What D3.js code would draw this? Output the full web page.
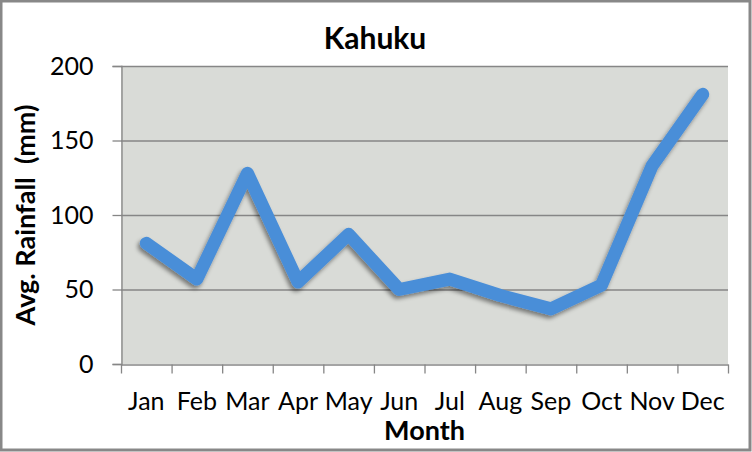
<!DOCTYPE html>
<html><head><meta charset="utf-8">
<script src="https://cdn.jsdelivr.net/npm/d3@7"></script>
<style>
html,body{margin:0;padding:0;background:#fff;}
svg{display:block;}
text{font-family:Lato,"Open Sans",sans-serif;fill:#000;white-space:pre;}
</style></head>
<body>
<svg id="chart" width="752" height="452"></svg>
<script>
const months = ["Jan","Feb","Mar","Apr","May","Jun","Jul","Aug","Sep","Oct","Nov","Dec"];
const rainfall = [81, 57, 128, 55, 87, 50, 57, 46, 37, 53, 133, 181];
const yTicks = [0, 50, 100, 150, 200];
const title = "Kahuku";
const xTitle = "Month";
const yTitle = "Avg. Rainfall  (mm)";

const W = 752, H = 452;
const m = {left:121, right:24, top:66, bottom:88};
const svg = d3.select("#chart");

svg.append("rect").attr("x",1).attr("y",1).attr("width",W-3).attr("height",H-3)
  .attr("fill","#fff").attr("stroke","#888").attr("stroke-width",3);

const x = d3.scaleBand().domain(months).range([m.left, W-m.right]);
const y = d3.scaleLinear().domain([0,200]).range([H-m.bottom, m.top]);

const defs = svg.append("defs");
const f = defs.append("filter").attr("id","sh").attr("x","-10%").attr("y","-10%").attr("width","120%").attr("height","130%");
f.append("feDropShadow").attr("dx",-2).attr("dy",3).attr("stdDeviation",2).attr("flood-color","#000").attr("flood-opacity",0.45);

svg.append("rect").attr("x",m.left).attr("y",m.top).attr("width",W-m.right-m.left).attr("height",H-m.bottom-m.top)
  .attr("fill","#d9dbd7");

// gridlines
svg.append("g").selectAll("line").data(yTicks.filter(d=>d>0)).join("line")
  .attr("x1",m.left).attr("x2",W-m.right).attr("y1",d=>y(d)+0.5).attr("y2",d=>y(d)+0.5)
  .attr("stroke","#868686").attr("stroke-width",1.3);

// y axis
const ya = svg.append("g").attr("transform",`translate(${m.left+0.5},0)`)
  .call(d3.axisLeft(y).tickValues(yTicks).tickSize(9).tickPadding(19));
ya.select(".domain").attr("stroke","#868686").attr("stroke-width",1.3);
ya.selectAll(".tick line").attr("stroke","#868686").attr("stroke-width",1.3);
ya.selectAll("text").style("font-size","25px").attr("fill","#000");

// x axis
const xa = svg.append("g").attr("transform",`translate(0,${H-m.bottom+0.5})`)
  .call(d3.axisBottom(x).tickSize(0).tickPadding(28));
xa.select(".domain").attr("stroke","#868686").attr("stroke-width",1.3);
xa.selectAll("text").style("font-size","25px").attr("fill","#000");
const edges = months.map(d=>x(d)).concat([W-m.right]);
xa.selectAll(".edge").data(edges).join("line").attr("class","edge")
  .attr("x1",d=>d+0.5).attr("x2",d=>d+0.5).attr("y1",0).attr("y2",9)
  .attr("stroke","#868686").attr("stroke-width",1.3);

// line
const line = d3.line().x((d,i)=>x(months[i])+x.bandwidth()/2).y(d=>y(d));
svg.append("path").datum(rainfall).attr("d",line).attr("fill","none")
  .attr("stroke","#4a8ed8").attr("stroke-width",13).attr("stroke-linejoin","round").attr("stroke-linecap","round")
  .attr("filter","url(#sh)");

// titles
svg.append("text").attr("x",375).attr("y",49).attr("text-anchor","middle")
  .style("font-size","30px").style("font-weight","bold").text(title);
svg.append("text").attr("x",(m.left+W-m.right)/2).attr("y",440).attr("text-anchor","middle")
  .style("font-size","27px").style("font-weight","bold").text(xTitle);
svg.append("text").attr("transform",`translate(35,${(m.top+H-m.bottom)/2}) rotate(-90)`).attr("text-anchor","middle")
  .style("font-size","27px").style("font-weight","bold").text(yTitle);
</script>
</body></html>
